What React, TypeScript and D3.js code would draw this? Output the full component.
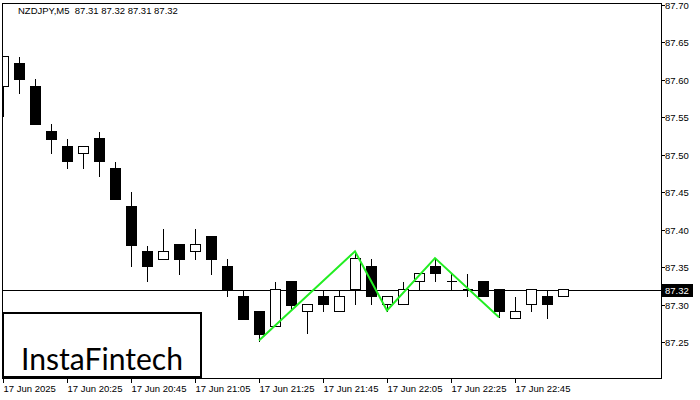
import { useEffect, useRef } from "react";
import * as d3 from "d3";

// NZDJPY M5 candles
const opens = [87.591, 87.622, 87.592, 87.532, 87.512, 87.502, 87.522, 87.482, 87.432, 87.372,
  87.361, 87.381, 87.371, 87.392, 87.352, 87.312, 87.292, 87.271, 87.332, 87.291,
  87.311, 87.291, 87.321, 87.352, 87.301, 87.301, 87.332, 87.352, 87.332, 87.321,
  87.332, 87.321, 87.282, 87.301, 87.311, 87.311];
const highs = [87.632, 87.632, 87.602, 87.542, 87.522, 87.512, 87.532, 87.492, 87.452, 87.380,
  87.402, 87.381, 87.402, 87.392, 87.362, 87.321, 87.292, 87.332, 87.332, 87.301,
  87.321, 87.321, 87.371, 87.362, 87.311, 87.332, 87.342, 87.362, 87.342, 87.342,
  87.332, 87.321, 87.311, 87.321, 87.321, 87.321];
const lows = [87.551, 87.582, 87.541, 87.502, 87.482, 87.482, 87.471, 87.441, 87.351, 87.331,
  87.361, 87.341, 87.361, 87.341, 87.311, 87.281, 87.252, 87.271, 87.293, 87.262,
  87.291, 87.291, 87.301, 87.301, 87.292, 87.301, 87.321, 87.332, 87.321, 87.311,
  87.311, 87.283, 87.282, 87.291, 87.282, 87.311];
const closes = [87.632, 87.601, 87.541, 87.521, 87.491, 87.512, 87.491, 87.441, 87.380, 87.351,
  87.372, 87.361, 87.381, 87.361, 87.321, 87.281, 87.261, 87.321, 87.300, 87.301,
  87.301, 87.311, 87.362, 87.311, 87.311, 87.321, 87.342, 87.342, 87.332, 87.321,
  87.311, 87.291, 87.292, 87.321, 87.301, 87.321];

const priceTicks = [87.25, 87.3, 87.35, 87.4, 87.45, 87.5, 87.55, 87.6, 87.65, 87.7];
const timeLabels = ["17 Jun 2025", "17 Jun 20:25", "17 Jun 20:45", "17 Jun 21:05", "17 Jun 21:25",
  "17 Jun 21:45", "17 Jun 22:05", "17 Jun 22:25", "17 Jun 22:45"];
const timeLabelIdx = [0, 4, 8, 12, 16, 20, 24, 28, 32];

// pattern (triple bottom) vertices: candle index + which extreme
const patternIdx = [16, 22, 24, 27, 31];
const patternKind = ["low", "high", "low", "high", "low"];

const lastPrice = 87.32;
const header = "NZDJPY,M5  87.31 87.32 87.31 87.32";

const W = 700, H = 400;
const L = 2, R = 661, T = 3, B = 378;
const FONT = "'Liberation Sans', Arial, sans-serif";

export default function App() {
  const svgRef = useRef<SVGSVGElement>(null);

  useEffect(() => {
    document.body.style.margin = "0";
    const svg = d3.select(svgRef.current);
    svg.selectAll("*").remove();

    const x = d3.scaleLinear().domain([0, 41]).range([3, 659]);
    const y = d3.scaleLinear().domain([87.7, 87.25]).range([4.7, 342]);
    const px = (i: number) => Math.round(x(i)) + 0.5;
    const py = (v: number) => Math.round(y(v)) + 0.5;

    svg.append("rect").attr("width", W).attr("height", H).attr("fill", "#fff");

    svg.append("defs").append("clipPath").attr("id", "plot")
      .append("rect").attr("x", L).attr("y", T).attr("width", R - L).attr("height", B - T);

    const g = svg.append("g").attr("clip-path", "url(#plot)").attr("shape-rendering", "crispEdges");

    // last price line
    g.append("line")
      .attr("x1", L).attr("x2", R).attr("y1", py(lastPrice)).attr("y2", py(lastPrice))
      .attr("stroke", "#000").attr("stroke-width", 1);

    // candles
    opens.forEach((o, i) => {
      const c = closes[i];
      const cx = px(i);
      g.append("line")
        .attr("x1", cx).attr("x2", cx).attr("y1", py(highs[i])).attr("y2", py(lows[i]))
        .attr("stroke", "#000").attr("stroke-width", 1);
      const top = py(Math.max(o, c));
      const bot = py(Math.min(o, c));
      if (bot - top < 1) {
        g.append("line")
          .attr("x1", cx - 5).attr("x2", cx + 5).attr("y1", top).attr("y2", top)
          .attr("stroke", "#000");
      } else {
        g.append("rect")
          .attr("x", cx - 5).attr("y", top).attr("width", 10).attr("height", bot - top)
          .attr("fill", c > o ? "#fff" : "#000").attr("stroke", "#000").attr("stroke-width", 1);
      }
    });

    // pattern line
    const pts: [number, number][] = patternIdx.map((i, k) =>
      [x(i), y(patternKind[k] === "low" ? lows[i] : highs[i])]);
    svg.append("path")
      .attr("d", d3.line()(pts))
      .attr("fill", "none").attr("stroke", "#22ee22").attr("stroke-width", 2);

    // frame
    svg.append("rect")
      .attr("x", L + 0.5).attr("y", T + 0.5).attr("width", R - L).attr("height", B - T)
      .attr("fill", "none").attr("stroke", "#000").attr("stroke-width", 1)
      .attr("shape-rendering", "crispEdges");

    // price axis
    const ya = svg.append("g").attr("shape-rendering", "crispEdges");
    priceTicks.forEach((p) => {
      ya.append("line").attr("x1", R).attr("x2", R + 4).attr("y1", py(p)).attr("y2", py(p))
        .attr("stroke", "#000");
      ya.append("text").attr("x", 665).attr("y", py(p) + 3.5)
        .attr("font-family", FONT).attr("font-size", 9.5).attr("fill", "#000")
        .text(p.toFixed(2));
    });
    ya.append("rect").attr("x", 662).attr("y", py(lastPrice) - 6.5).attr("width", 31).attr("height", 13)
      .attr("fill", "#000");
    ya.append("text").attr("x", 665).attr("y", py(lastPrice) + 3.5)
      .attr("font-family", FONT).attr("font-size", 9.5).attr("fill", "#fff")
      .text(lastPrice.toFixed(2));

    // time axis
    const xa = svg.append("g");
    timeLabelIdx.forEach((i, k) => {
      const tx = px(i);
      xa.append("line").attr("x1", tx).attr("x2", tx).attr("y1", B).attr("y2", B + 5)
        .attr("stroke", "#000").attr("shape-rendering", "crispEdges");
      xa.append("text").attr("x", tx).attr("y", 392)
        .attr("font-family", FONT).attr("font-size", 9.5).attr("fill", "#000")
        .text(timeLabels[k]);
    });

    // header
    svg.append("text").attr("x", 18).attr("y", 14)
      .attr("font-family", FONT).attr("font-size", 9.5).attr("fill", "#000")
      .style("white-space", "pre")
      .text(header);

    // logo box
    svg.append("rect").attr("x", 3).attr("y", 313).attr("width", 198).attr("height", 64)
      .attr("fill", "#fff").attr("stroke", "#000").attr("stroke-width", 2);
    svg.append("text").attr("x", 21).attr("y", 370)
      .attr("font-family", "Lato, 'Open Sans', sans-serif").attr("font-size", 30).attr("fill", "#000")
      .attr("textLength", 162).attr("lengthAdjust", "spacingAndGlyphs")
      .text("InstaFintech");
  }, []);

  return <svg ref={svgRef} width={W} height={H} style={{ display: "block" }} />;
}
